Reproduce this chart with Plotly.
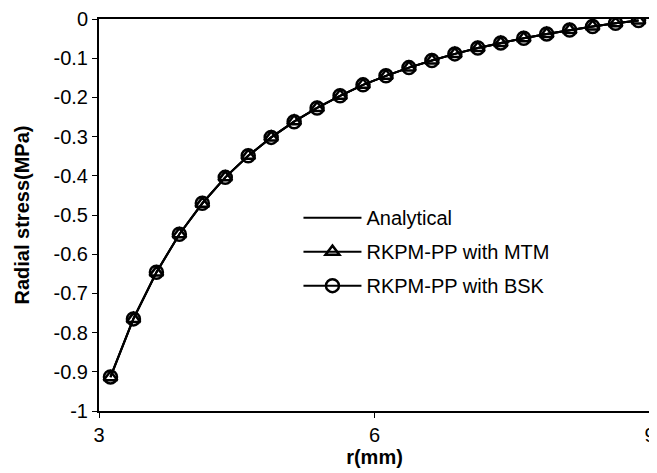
import plotly.graph_objects as go

# radial positions (mm)
r_vals = [3.125, 3.375, 3.625, 3.875, 4.125, 4.375, 4.625, 4.875, 5.125, 5.375, 5.625, 5.875,
          6.125, 6.375, 6.625, 6.875, 7.125, 7.375, 7.625, 7.875, 8.125, 8.375, 8.625, 8.875]

analytical = [-0.912, -0.764, -0.646, -0.549, -0.470, -0.404, -0.349, -0.302, -0.262, -0.227, -0.196, -0.168,
              -0.145, -0.124, -0.106, -0.089, -0.074, -0.061, -0.049, -0.038, -0.028, -0.019, -0.011, -0.004]

rkpm_mtm = [-0.914, -0.765, -0.647, -0.549, -0.471, -0.404, -0.349, -0.302, -0.261, -0.227, -0.196, -0.168,
            -0.145, -0.124, -0.106, -0.089, -0.074, -0.061, -0.049, -0.038, -0.028, -0.019, -0.011, -0.004]

rkpm_bsk = [-0.913, -0.765, -0.646, -0.549, -0.470, -0.404, -0.349, -0.302, -0.262, -0.227, -0.196, -0.168,
            -0.145, -0.124, -0.106, -0.089, -0.074, -0.061, -0.049, -0.038, -0.028, -0.019, -0.011, -0.004]

xtick_vals = [3, 6, 9]
xtick_text = ["3", "6", "9"]
ytick_vals = [0, -0.1, -0.2, -0.3, -0.4, -0.5, -0.6, -0.7, -0.8, -0.9, -1]
ytick_text = ["0", "-0.1", "-0.2", "-0.3", "-0.4", "-0.5", "-0.6", "-0.7", "-0.8", "-0.9", "-1"]

FONT = "Arial, Liberation Sans, sans-serif"

fig = go.Figure()
fig.add_trace(go.Scatter(x=r_vals, y=analytical, mode="lines", name="Analytical",
                         line=dict(color="black", width=2), legendgroup="a"))
fig.add_trace(go.Scatter(x=r_vals, y=rkpm_mtm, mode="lines+markers", name="RKPM-PP with MTM",
                         line=dict(color="black", width=2),
                         marker=dict(symbol="triangle-up-open", size=12, color="black",
                                     line=dict(color="black", width=2.5)),
                         legendgroup="b"))
fig.add_trace(go.Scatter(x=r_vals, y=rkpm_bsk, mode="lines+markers", name="RKPM-PP with BSK",
                         line=dict(color="black", width=2),
                         marker=dict(symbol="circle-open", size=13, color="black",
                                     line=dict(color="black", width=2.5)),
                         legendgroup="c"))

fig.update_layout(
    width=649, height=465,
    margin=dict(l=91, r=7, t=11, b=62, autoexpand=False),
    paper_bgcolor="white", plot_bgcolor="white",
    font=dict(family=FONT, size=20, color="black"),
    showlegend=True,
    legend=dict(x=0.362, y=0.543, xanchor="left", yanchor="top",
                bgcolor="rgba(0,0,0,0)", font=dict(size=20, family=FONT),
                traceorder="grouped", tracegroupgap=5, itemwidth=58),
    xaxis=dict(range=[3, 9], tickvals=xtick_vals, ticktext=xtick_text,
               showgrid=False, zeroline=False, showline=True, linecolor="black", linewidth=2,
               mirror=True, ticks="outside", ticklen=5, tickcolor="black", tickwidth=1,
               ticklabeloverflow="allow",
               tickfont=dict(size=20, family=FONT),
               title=dict(text="<b>r(mm)</b>", font=dict(size=20, family=FONT), standoff=5)),
    yaxis=dict(range=[-1, 0], tickvals=ytick_vals, ticktext=ytick_text,
               showgrid=False, zeroline=False, showline=True, linecolor="black", linewidth=2,
               mirror=True, ticks="outside", ticklen=5, tickcolor="black", tickwidth=1,
               ticklabeloverflow="allow",
               tickfont=dict(size=20, family=FONT),
               title=dict(text="<b>Radial stress(MPa)</b>", font=dict(size=20, family=FONT), standoff=19)),
)

fig.write_html("out.html")
